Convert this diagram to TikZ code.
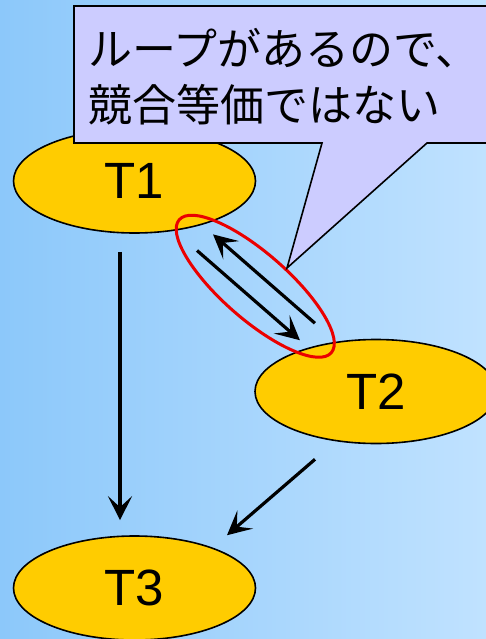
\documentclass[tikz,border=0pt]{standalone}
\usepackage{fontspec}
\setmainfont{Liberation Sans}
\newfontfamily\jpfont{Noto Sans CJK JP}
\usetikzlibrary{calc,arrows.meta,shapes.geometric}
\definecolor{bgleft}{RGB}{140,200,250}
\definecolor{bgright}{RGB}{192,226,255}
\definecolor{txfill}{RGB}{255,204,0}
\definecolor{notefill}{RGB}{204,204,255}
\definecolor{loopred}{RGB}{235,0,0}

\begin{document}
\begin{tikzpicture}[x=1pt, y=-1pt,
	tx/.style={ellipse, draw=black, line width=1.6pt, fill=txfill, minimum width=242pt, minimum height=104pt, inner sep=0pt, font=\fontsize{51}{51}\selectfont},
	arr/.style={line width=3.2pt, -{Stealth[length=24pt, width=24pt, inset=11pt]}},
	loopmark/.style={draw=loopred, line width=3pt},
	note/.style={draw=black, line width=1.6pt, fill=notefill}]
		%%%%% START %%%%%
		
		\useasboundingbox (0, 0) rectangle (486, 639);
		\clip (0, 0) rectangle (486, 639);
		\shade[left color=bgleft, right color=bgright] (0, 0) rectangle (486, 639);
		
		\node[tx] (t1) at (134.5, 181) {T1};
		\node[tx] (t2) at (376, 391.5) {T2};
		\node[tx] (t3) at (134.5, 588) {T3};
		
		\draw[arr, shorten <=18pt, shorten >=15pt] ([xshift=-14.5pt]t1.south) -- ([xshift=-14.5pt]t3.north);
		\draw[arr] ($(t2.south)+(-61, 15)$) -- ($(t3.north)+(92.5, 0)$);
		
		\draw[arr] ($(t1)!0.716!(t2)+(7.5, -8.5)$) -- ($(t1)!0.294!(t2)+(7.5, -8.5)$);
		\draw[arr] ($(t1)!0.29!(t2)+(-7.5, 8.5)$) -- ($(t1)!0.716!(t2)+(-7.5, 8.5)$);
		
		\draw[loopmark, rotate=-41.2] ($(t1)!0.5!(t2)$) ellipse (101 and 33);
		
		\draw[note] (74, 6) -- (500, 6) -- (500, 143) -- (427, 143) -- (287, 268) -- (322, 143) -- (74, 143) -- cycle;
		\node[anchor=west, align=left, inner sep=0pt, font=\jpfont\fontsize{44}{56}\selectfont] (note) at (88, 77) {ループがあるので、\\競合等価ではない};
		
		%%%%% END %%%%%
\end{tikzpicture}
\end{document}
